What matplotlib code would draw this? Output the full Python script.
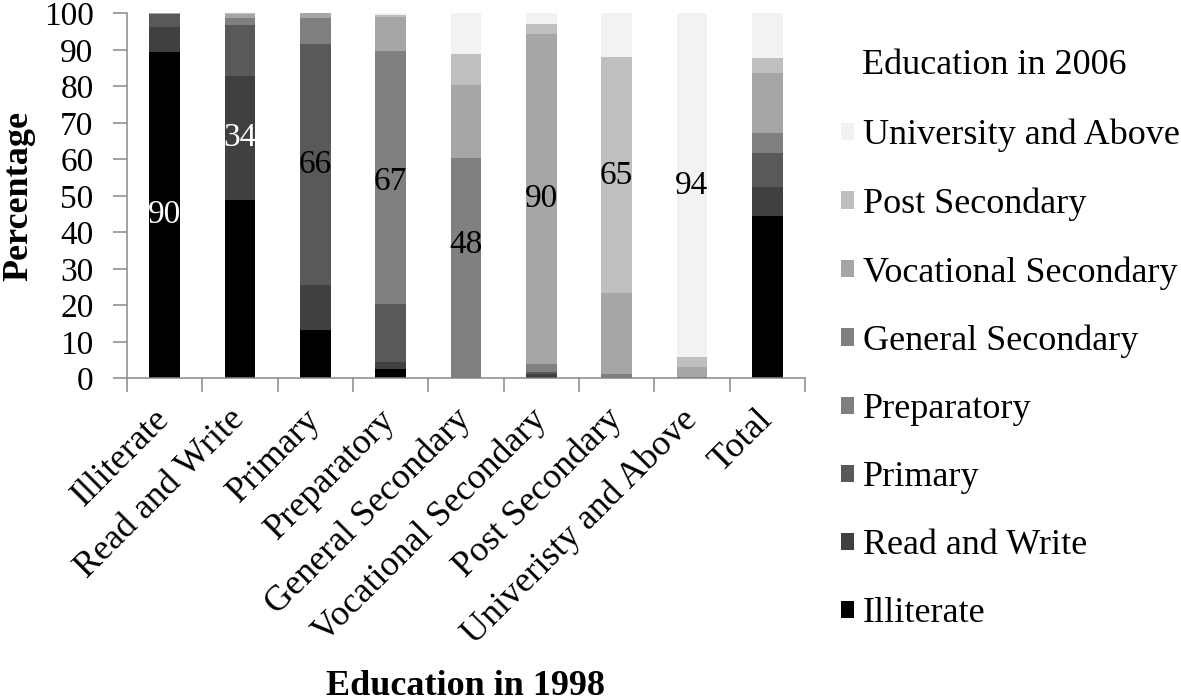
import matplotlib
matplotlib.use('Agg')
import matplotlib.pyplot as plt
import numpy as np

plt.rcParams['font.family'] = ['Liberation Serif', 'DejaVu Serif']

# Education in 1998 (x categories)
cats_1998 = ['Illiterate', 'Read and Write', 'Primary', 'Preparatory',
             'General Secondary', 'Vocational Secondary', 'Post Secondary',
             'Univeristy and Above', 'Total']

# Education in 2006 (stack series), percentage of each 1998 group
series_names = ['Illiterate', 'Read and Write', 'Primary', 'Preparatory',
                'General Secondary', 'Vocational Secondary', 'Post Secondary',
                'University and Above']
illiterate = [89.5, 49.0, 13.4, 2.7, 0.1, 0.5, 0.1, 0.0, 44.4]
read_write = [6.8, 33.8, 12.2, 1.7, 0.1, 0.6, 0.1, 0.0, 8.1]
primary = [3.4, 14.1, 66.0, 16.1, 0.3, 0.6, 0.3, 0.0, 9.3]
preparatory = [0.2, 1.7, 5.0, 67.0, 12.0, 0.8, 0.2, 0.1, 3.5]
general_sec = [0.0, 0.0, 2.0, 2.2, 48.0, 1.4, 0.5, 0.4, 1.8]
vocational = [0.1, 1.3, 1.4, 9.2, 20.0, 90.4, 22.1, 2.7, 16.6]
post_sec = [0.0, 0.1, 0.0, 0.6, 8.4, 2.7, 64.6, 2.6, 4.1]
university = [0.0, 0.0, 0.0, 0.5, 11.1, 3.0, 12.1, 94.2, 12.2]

all_series = [illiterate, read_write, primary, preparatory,
              general_sec, vocational, post_sec, university]
colors = ['#000000', '#404040', '#595959', '#7f7f7f',
          '#808080', '#a6a6a6', '#bfbfbf', '#f2f2f2']

fs = 24        # y ticks and data labels
fs_big = 26    # x ticks, axis titles and legend
axis_col = '#898989'

fig = plt.figure(figsize=(11.81, 7.0), dpi=100)
ax = fig.add_axes([0.1075, 0.4593, 0.5741, 0.5217])

x = np.arange(len(cats_1998))
bottom = np.zeros(len(cats_1998))
bars = []
for name, vals, c in zip(series_names, all_series, colors):
    b = ax.bar(x, vals, width=0.41, bottom=bottom, color=c, label=name,
               edgecolor='none')
    bars.append(b)
    bottom += np.array(vals)

# diagonal labels: share staying at the same level
for i in range(8):
    vals = np.array([s[i] for s in all_series])
    ymid = vals[:i].sum() + vals[i] / 2
    ax.text(x[i], ymid, f'{vals[i]:.0f}', ha='center', va='center',
            fontsize=fs, color='white' if i < 2 else 'black')

ax.set_xlim(-0.5, 8.5)
ax.set_ylim(0, 100)
ax.set_yticks(range(0, 101, 10))
ax.tick_params(axis='y', labelsize=fs, length=10, width=1.1, color=axis_col,
               pad=14, direction='out')

ax.set_xticks(x)
ax.set_xticklabels(cats_1998, rotation=45, ha='right', va='center',
                   rotation_mode='anchor', fontsize=fs_big)
ax.tick_params(axis='x', length=0, pad=26)
ax.set_xticks(np.arange(-0.5, 9, 1), minor=True)
ax.tick_params(axis='x', which='minor', length=10, width=1.1, color=axis_col)

for s in ['top', 'right']:
    ax.spines[s].set_visible(False)
for s in ['left', 'bottom']:
    ax.spines[s].set_color(axis_col)
    ax.spines[s].set_linewidth(1.1)

ax.set_ylabel('Percentage', fontsize=fs_big, fontweight='bold')
ax.yaxis.set_label_coords(-0.135, 0.5)
ax.set_xlabel('Education in 1998', fontsize=fs_big, fontweight='bold')
ax.xaxis.set_label_coords(0.5, -0.868)
ax.xaxis.label.set_va('baseline')

leg = fig.legend(bars[::-1], series_names[::-1], loc='upper left',
                 bbox_to_anchor=(841 / 1181, 1 - 119 / 700), frameon=False,
                 fontsize=fs_big, handlelength=0.36, handleheight=0.36,
                 handletextpad=0.24, labelspacing=0.97, borderpad=0,
                 borderaxespad=0)
fig.text(862 / 1181, 1 - 65 / 700, 'Education in 2006', fontsize=fs_big,
         ha='left', va='center')

fig.savefig('out.png', dpi=100)
